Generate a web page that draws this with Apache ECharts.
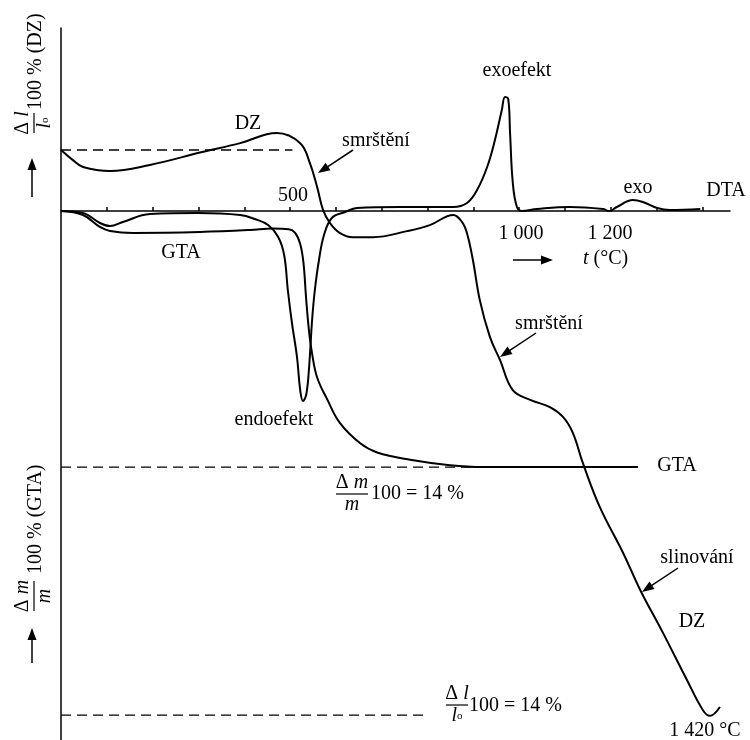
<!DOCTYPE html>
<html>
<head>
<meta charset="utf-8">
<script src="https://cdn.jsdelivr.net/npm/echarts@6/dist/echarts.min.js"></script>
<style>
  html, body { margin: 0; padding: 0; background: #fff; }
  #chart { width: 750px; height: 740px; }
</style>
</head>
<body>
<div id="chart"></div>
<script>
// teplota t (°C) a hodnoty krivek
var dtaT = [0, 48, 85, 107, 135, 194, 300, 391, 423, 452, 474, 487, 495, 504, 515, 522, 528, 535, 541, 548,
  554, 563, 574, 591, 620, 646, 740, 856, 886, 908, 930, 947, 962, 969, 976, 980, 986, 995, 1006, 1039,
  1111, 1183, 1196, 1213, 1248, 1270, 1301, 1329, 1395];
var dtaV = [0, -0.2, -1.2, -1.5, -1.1, -0.3, -0.2, -0.4, -0.8, -1.4, -2.6, -4.4, -7.9, -11.2, -14.6, -17.9, -19.0, -18.4, -15.9, -10.9,
  -7.9, -4.9, -2.4, -0.7, -0.1, 0.3, 0.4, 0.4, 0.8, 2.1, 4.4, 7.1, 10.1, 11.4, 11.2, 7.8, 2.8, 0.4, 0, 0.2,
  0.4, 0.2, 0, 0.4, 1.1, 0.9, 0.3, 0.1, 0.2];

var gtaT = [0, 48, 85, 107, 157, 303, 412, 463, 497, 511, 522, 529, 535, 541, 548, 559, 581, 609, 653, 690, 762, 849, 921, 1259];
var gtaV = [0, -0.22, -0.87, -1.09, -1.2, -1.15, -1.04, -0.95, -1.0, -1.2, -1.8, -2.8, -4.8, -6.5, -7.8, -9.1, -10.3, -11.6, -12.7, -13.2, -13.6, -13.9, -14.0, -14.0];

var dzT = [0, 26, 48, 107, 194, 308, 391, 471, 522, 543, 559, 572, 587, 609, 637, 681, 755, 805, 856, 875,
  886, 899, 914, 936, 958, 986, 1024, 1067, 1096, 1117, 1139, 1176, 1227, 1264, 1314, 1366, 1401, 1416, 1438];
var dzV = [0, -0.25, -0.42, -0.52, -0.37, -0.05, 0.17, 0.42, 0.17, -0.32, -0.92, -1.49, -1.81, -2.06, -2.16, -2.16, -2.01, -1.86, -1.61, -1.78,
  -2.06, -2.73, -3.72, -4.63, -5.2, -5.95, -6.19, -6.37, -6.62, -7.01, -7.76, -8.85, -9.99, -10.9, -11.97, -13.13, -13.88, -14.02, -13.8];

// prerusovane vztazne cary
var dzZeroT = [0, 505];
var gtaLossT = [0, 1000];
var dzLossT = [0, 795];
var lossPct = -14;

var tickValues = [100, 200, 300, 400, 500, 600, 700, 800, 900, 1000, 1100, 1200, 1300, 1400];

var FAM = '"Liberation Serif", "Times New Roman", serif';
var FONT = '20px ' + FAM;
var IFONT = 'italic 20px ' + FAM;

function zip(xs, ys) {
  return xs.map(function (x, i) { return [x, ys[i]]; });
}
function flat(xs, v) {
  return xs.map(function (x) { return [x, v]; });
}

function txt(x, y, s, align) {
  return { type: 'text', x: x, y: y, style: { text: s, font: FONT, fill: '#000', textAlign: align || 'center', textVerticalAlign: 'middle' } };
}
function rtxt(x, y, s, align, valign) {
  return { type: 'text', x: x, y: y, style: {
    text: s, font: FONT, fill: '#000', textAlign: align || 'center', textVerticalAlign: valign || 'middle',
    rich: { i: { font: IFONT }, n: { font: FONT }, s: { font: '11px ' + FAM } }
  } };
}
function line(x1, y1, x2, y2, w) {
  return { type: 'line', shape: { x1: x1, y1: y1, x2: x2, y2: y2 }, style: { stroke: '#000', lineWidth: w || 1.3 } };
}
function arrow(x1, y1, x2, y2) {
  var dx = x2 - x1, dy = y2 - y1, len = Math.sqrt(dx * dx + dy * dy);
  var ux = dx / len, uy = dy / len, nx = -uy, ny = ux;
  var hl = 12, hw = 4.5;
  var bx = x2 - ux * hl, by = y2 - uy * hl;
  return { type: 'group', children: [
    line(x1, y1, bx + ux * 2, by + uy * 2, 1.5),
    { type: 'polygon', shape: { points: [[x2, y2], [bx + nx * hw, by + ny * hw], [bx - nx * hw, by - ny * hw]] }, style: { fill: '#000' } }
  ] };
}
// zlomek: stred x, cara y
function frac(x, y, num, den, w) {
  return [
    rtxt(x, y - 1, num, 'center', 'bottom'),
    line(x - w / 2, y, x + w / 2, y, 1.2),
    rtxt(x, y + 1, den, 'center', 'top')
  ];
}

var chart = echarts.init(document.getElementById('chart'));

var curveStyle = { color: '#000', width: 2 };
var dashStyle = { color: '#000', width: 1.3, type: [10, 6] };

var option = {
  animation: false,
  backgroundColor: '#fff',
  grid: { left: 61, right: 20, top: 28, bottom: 0, outerBoundsMode: 'none', containLabel: false },
  xAxis: {
    type: 'value', min: 0, max: 1460,
    axisLine: { onZero: true, onZeroAxisIndex: 0, lineStyle: { color: '#000', width: 1.5 } },
    axisTick: { inside: true, length: 4, customValues: tickValues, lineStyle: { color: '#000', width: 1.5 } },
    axisLabel: { show: false },
    splitLine: { show: false }
  },
  yAxis: [
    { // DTA
      type: 'value', min: -52.9, max: 18.3,
      axisLine: { show: true, lineStyle: { color: '#000', width: 1.5 } },
      axisTick: { show: false }, axisLabel: { show: false }, splitLine: { show: false }
    },
    { // DZ (%)
      type: 'value', min: -14.618, max: 3.023, show: false, splitLine: { show: false }
    },
    { // GTA (%)
      type: 'value', min: -28.923, max: 10.006, show: false, splitLine: { show: false }
    }
  ],
  series: [
    { name: 'DTA', type: 'line', yAxisIndex: 0, data: zip(dtaT, dtaV), showSymbol: false, symbol: 'none',
      smooth: 0.4, lineStyle: curveStyle },
    { name: 'GTA', type: 'line', yAxisIndex: 2, data: zip(gtaT, gtaV), showSymbol: false, symbol: 'none',
      smooth: 0.4, lineStyle: curveStyle },
    { name: 'DZ', type: 'line', yAxisIndex: 1, data: zip(dzT, dzV), showSymbol: false, symbol: 'none',
      smooth: 0.4, lineStyle: curveStyle },
    { name: 'DZ 0', type: 'line', yAxisIndex: 1, data: flat(dzZeroT, 0), symbol: 'none', lineStyle: dashStyle },
    { name: 'GTA -14', type: 'line', yAxisIndex: 2, data: flat(gtaLossT, lossPct), symbol: 'none', lineStyle: dashStyle },
    { name: 'DZ -14', type: 'line', yAxisIndex: 1, data: flat(dzLossT, lossPct), symbol: 'none', lineStyle: dashStyle }
  ],
  graphic: [
    // osove popisky
    { type: 'group', x: 36, y: 135, rotation: Math.PI / 2, children:
      frac(12, -2, '{n|Δ }{i|l}', '{i|l}{s|o}', 20).concat([
        txt(25, 0, '100 % (DZ)', 'left')
      ]) },
    arrow(32, 197, 32, 158),
    { type: 'group', x: 36, y: 612, rotation: Math.PI / 2, children:
      frac(16, -2, '{n|Δ }{i|m}', '{i|m}', 30).concat([
        txt(38, 0, '100 % (GTA)', 'left')
      ]) },
    arrow(32, 663, 32, 628),
    txt(293, 196, '500'),
    txt(521, 234, '1 000'),
    txt(610, 234, '1 200'),
    arrow(513, 260, 553, 260),
    rtxt(583, 259, '{i|t} (°C)', 'left'),
    // popisky krivek
    txt(248, 124, 'DZ'),
    txt(376, 141, 'smrštění'),
    arrow(353, 150, 318, 173),
    txt(517, 71, 'exoefekt'),
    txt(638, 188, 'exo'),
    txt(726, 191, 'DTA'),
    txt(181, 253, 'GTA'),
    txt(274, 420, 'endoefekt'),
    txt(549, 324, 'smrštění'),
    arrow(536, 333, 500, 357),
    txt(677, 466, 'GTA'),
    { type: 'group', children: frac(352, 494, '{n|Δ }{i|m}', '{i|m}', 32).concat([
      txt(371, 494, '100 = 14 %', 'left')
    ]) },
    txt(697, 558, 'slinování'),
    arrow(678, 568, 642, 592),
    txt(692, 622, 'DZ'),
    { type: 'group', children: frac(457, 705, '{n|Δ }{i|l}', '{i|l}{s|o}', 22).concat([
      txt(469, 706, '100 = 14 %', 'left')
    ]) },
    txt(705, 731, '1 420 °C')
  ]
};

chart.setOption(option);
</script>
</body>
</html>
